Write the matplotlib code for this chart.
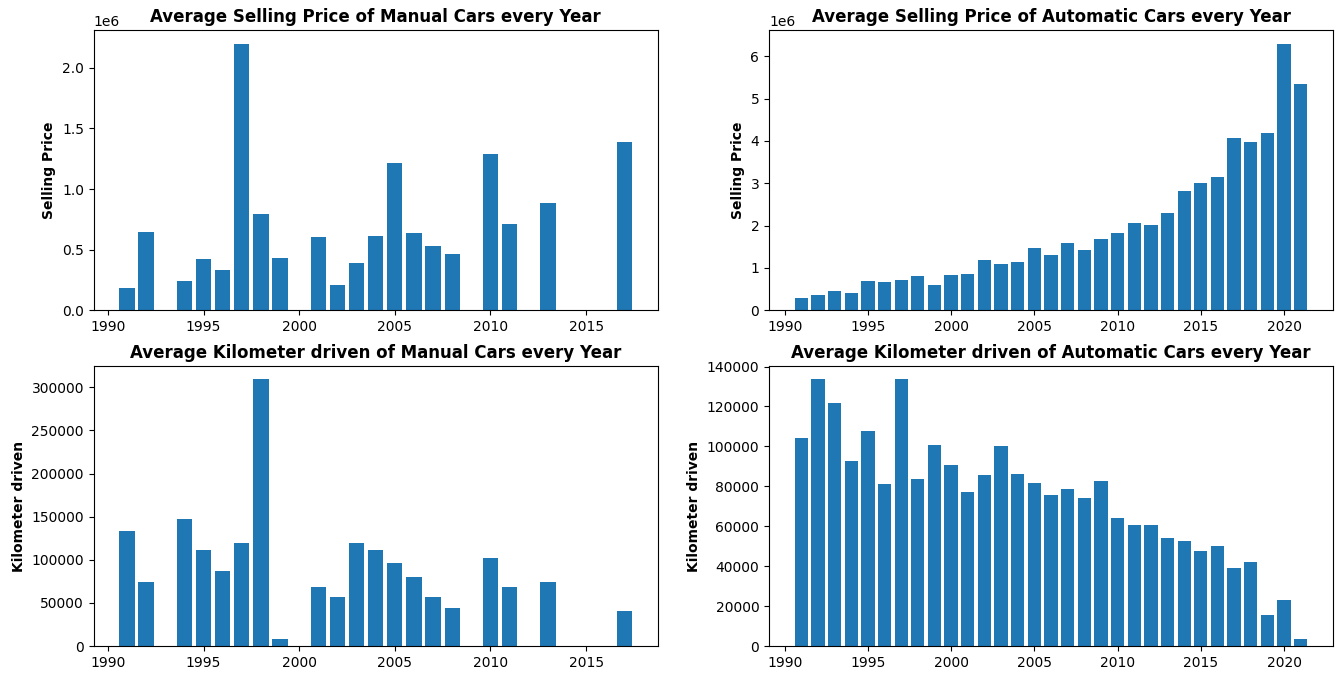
import matplotlib
matplotlib.use("Agg")
import matplotlib.pyplot as plt

manual_years = [1991, 1992, 1994, 1995, 1996, 1997, 1998, 1999, 2001, 2002, 2003, 2004,
                2005, 2006, 2007, 2008, 2010, 2011, 2013, 2017]
manual_price = [0.18e6, 0.645e6, 0.24e6, 0.42e6, 0.33e6, 2.2e6, 0.793e6, 0.43e6, 0.603e6,
                0.207e6, 0.388e6, 0.612e6, 1.215e6, 0.636e6, 0.529e6, 0.463e6, 1.289e6,
                0.711e6, 0.884e6, 1.388e6]
# 1999 manual km driven has a bar in km chart
manual_km = [133700, 74400, 147700, 111600, 87200, 119800, 309300, 8100, 68600, 57000,
             119800, 111600, 96500, 80200, 57000, 44200, 102300, 68600, 74400, 40700]

auto_years = list(range(1991, 2022))
auto_price = [0.284e6, 0.355e6, 0.45e6, 0.40e6, 0.687e6, 0.663e6, 0.71e6, 0.805e6, 0.592e6,
              0.829e6, 0.852e6, 1.184e6, 1.089e6, 1.137e6, 1.468e6, 1.302e6, 1.586e6,
              1.421e6, 1.681e6, 1.823e6, 2.06e6, 2.013e6, 2.297e6, 2.818e6, 3.007e6,
              3.149e6, 4.073e6, 3.978e6, 4.191e6, 6.298e6, 5.351e6]
auto_km = [104000, 133600, 121600, 92900, 107500, 81400, 133600, 83900, 100500, 90900,
           77400, 85900, 100000, 86400, 81900, 75900, 78900, 73900, 82900, 64300, 60800,
           60800, 54300, 52800, 47700, 50200, 39200, 42200, 15600, 23100, 3500]

W, H = 1342, 680
fig = plt.figure(figsize=(W / 100, H / 100), dpi=100)

def add_ax(x0, y0, x1, y1):
    return fig.add_axes([x0 / W, 1 - y1 / H, (x1 - x0) / W, (y1 - y0) / H])

ax1 = add_ax(93.7, 30.3, 657.7, 310.3)
ax2 = add_ax(769, 30.3, 1333, 310.3)
ax3 = add_ax(93.7, 366, 657.7, 646)
ax4 = add_ax(769, 366, 1333, 646)

color = "#1f77b4"
ax1.bar(manual_years, manual_price, color=color)
ax1.set_title("Average Selling Price of Manual Cars every Year", fontweight="bold", fontsize=12)
ax1.set_ylabel("Selling Price", fontweight="bold")

ax2.bar(auto_years, auto_price, color=color)
ax2.set_title("Average Selling Price of Automatic Cars every Year", fontweight="bold", fontsize=12)
ax2.set_ylabel("Selling Price", fontweight="bold")

ax3.bar(manual_years, manual_km, color=color)
ax3.set_title("Average Kilometer driven of Manual Cars every Year", fontweight="bold", fontsize=12)
ax3.set_ylabel("Kilometer driven", fontweight="bold")

ax4.bar(auto_years, auto_km, color=color)
ax4.set_title("Average Kilometer driven of Automatic Cars every Year", fontweight="bold", fontsize=12)
ax4.set_ylabel("Kilometer driven", fontweight="bold")

fig.savefig("out.png", dpi=100)
